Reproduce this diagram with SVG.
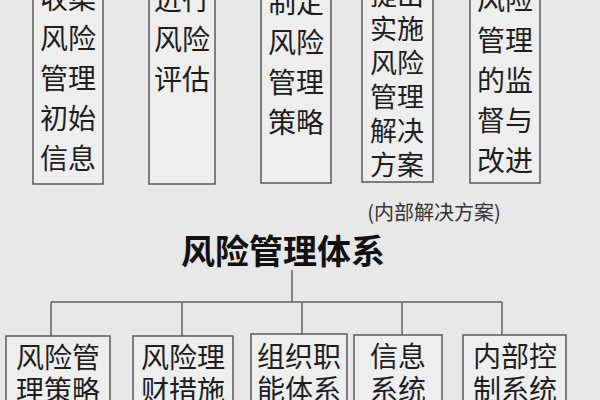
<svg xmlns="http://www.w3.org/2000/svg" width="600" height="400" viewBox="0 0 600 400">
<style>
.bg{fill:#e8e8e8}
.box{fill:#eeeeee;stroke:#5a5a5a;stroke-width:1.5}
.t{font-family:"Noto Sans CJK SC","Noto Sans CJK JP",sans-serif;font-size:28px;fill:#1e1e1e;text-anchor:middle;dominant-baseline:central}
.t4{font-size:27px}
.note{font-family:"Noto Sans CJK SC",sans-serif;font-size:20px;fill:#333;text-anchor:middle;dominant-baseline:central}
.title{font-family:"Noto Sans CJK SC",sans-serif;font-size:34px;font-weight:bold;fill:#111;text-anchor:middle;dominant-baseline:central}
.ln{stroke:#606060;stroke-width:1.5;fill:none}
</style>
<rect class="bg" x="0" y="0" width="600" height="400"/>
<g id="top1"><rect class="box" x="33" y="-10" width="70" height="194"/>
<text class="t" x="68" y="-3">收集</text><text class="t" x="68" y="37">风险</text><text class="t" x="68" y="77">管理</text><text class="t" x="68" y="117">初始</text><text class="t" x="68" y="157">信息</text></g>
<g id="top2"><rect class="box" x="149" y="-10" width="66" height="194"/>
<text class="t" x="182" y="-2">进行</text><text class="t" x="182" y="38">风险</text><text class="t" x="182" y="78">评估</text></g>
<g id="top3"><rect class="box" x="261" y="-10" width="70" height="193"/>
<text class="t" x="296" y="1">制定</text><text class="t" x="296" y="41">风险</text><text class="t" x="296" y="81">管理</text><text class="t" x="296" y="121">策略</text></g>
<g id="top4"><rect class="box" x="362" y="-10" width="71" height="192"/>
<text class="t t4" x="397" y="-7">提出</text><text class="t t4" x="397" y="27">实施</text><text class="t t4" x="397" y="61">风险</text><text class="t t4" x="397" y="95">管理</text><text class="t t4" x="397" y="129">解决</text><text class="t t4" x="397" y="163">方案</text></g>
<g id="top5"><rect class="box" x="470" y="-10" width="70" height="193"/>
<text class="t" x="505" y="-2">风险</text><text class="t" x="505" y="39">管理</text><text class="t" x="505" y="79">的监</text><text class="t" x="505" y="119">督与</text><text class="t" x="505" y="159">改进</text></g>
<g id="note"><text class="note" x="434" y="211">(内部解决方案)</text></g>
<g id="root"><text class="title" x="283" y="249">风险管理体系</text></g>
<g id="connectors">
<path class="ln" d="M292 270V302M51 302H502M51 302V336M182 302V336M302 302V334M402 302V335M502 302V335"/>
</g>
<g id="b1"><rect class="box" x="6" y="336" width="104" height="80"/>
<text class="t" x="58" y="356">风险管</text><text class="t" x="58" y="389">理策略</text></g>
<g id="b2"><rect class="box" x="133" y="336" width="100" height="80"/>
<text class="t" x="183" y="356">风险理</text><text class="t" x="183" y="389">财措施</text></g>
<g id="b3"><rect class="box" x="251" y="334" width="96" height="80"/>
<text class="t" x="299" y="355">组织职</text><text class="t" x="299" y="388">能体系</text></g>
<g id="b4"><rect class="box" x="354" y="335" width="88" height="80"/>
<text class="t" x="398" y="355">信息</text><text class="t" x="398" y="388">系统</text></g>
<g id="b5"><rect class="box" x="463" y="335" width="103" height="80"/>
<text class="t" x="515" y="355">内部控</text><text class="t" x="515" y="388">制系统</text></g>
</svg>
